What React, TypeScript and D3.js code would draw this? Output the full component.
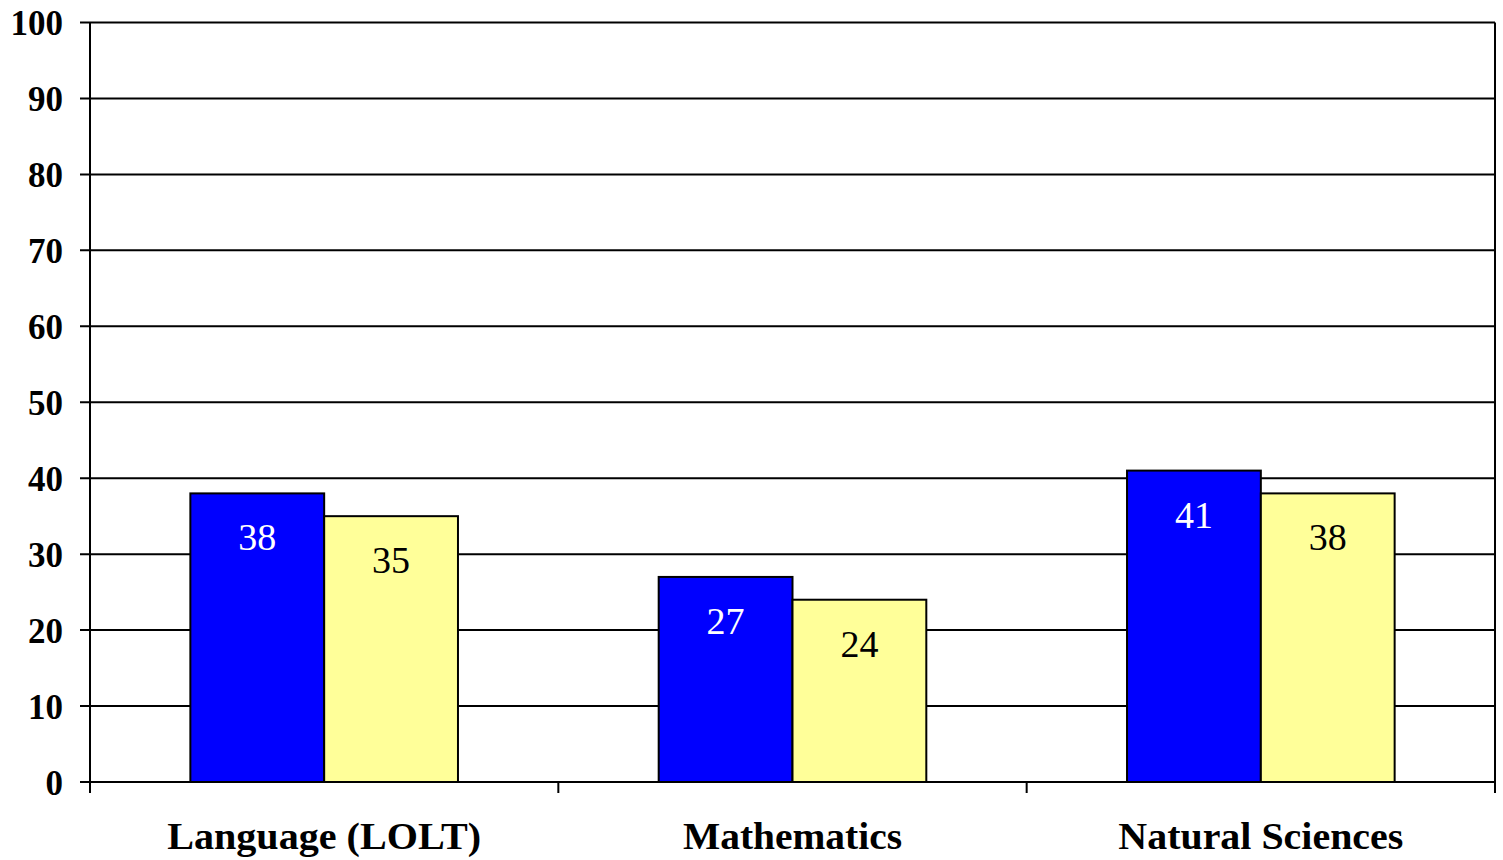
import React from "react";
import * as d3 from "d3";

const categories = ["Language (LOLT)", "Mathematics", "Natural Sciences"];
const seriesNames = ["Series A", "Series B"];
const seriesA = [38, 27, 41];
const seriesB = [35, 24, 38];
const yTicks = [0, 10, 20, 30, 40, 50, 60, 70, 80, 90, 100];
const categoryLabelWidths = [314, 219, 285];

const W = 1503;
const H = 860;
const left = 90;
const right = 1495;
const top = 22.5;
const bottom = 782;

const colors = ["#0000FF", "#FFFF99"];
const labelColors = ["#FFFFFF", "#000000"];
const serif = "'Liberation Serif', 'Times New Roman', serif";

export default function App() {
  const x0 = d3.scaleBand<string>().domain(categories).range([left, right]).paddingInner(0).paddingOuter(0);
  const x1 = d3
    .scaleBand<string>()
    .domain(seriesNames)
    .range([0, x0.bandwidth()])
    .paddingInner(0)
    .paddingOuter(0.75);
  const y = d3.scaleLinear().domain([0, 100]).range([bottom, top]);

  const values = [seriesA, seriesB];
  const catTicks = [...categories.map((c) => x0(c) as number), right];

  return (
    <svg
      width={W}
      height={H}
      viewBox={`0 0 ${W} ${H}`}
      style={{ position: "absolute", left: 0, top: 0, display: "block", background: "#ffffff" }}
    >
      <rect x={0} y={0} width={W} height={H} fill="#ffffff" />

      {/* horizontal gridlines and y ticks */}
      {yTicks.map((t) => (
        <g key={`g${t}`}>
          <line x1={left - 10} x2={right} y1={y(t)} y2={y(t)} stroke="#000" strokeWidth={2} />
          <text
            x={63}
            y={y(t) + 12.5}
            textAnchor="end"
            fontFamily={serif}
            fontWeight="bold"
            fontSize={35}
            fill="#000"
          >
            {t}
          </text>
        </g>
      ))}

      {/* bars */}
      {categories.map((c, ci) =>
        seriesNames.map((s, si) => {
          const v = values[si][ci];
          const bx = (x0(c) as number) + (x1(s) as number);
          const bw = x1.bandwidth();
          return (
            <g key={`${c}-${s}`}>
              <rect
                x={bx}
                y={y(v)}
                width={bw}
                height={y(0) - y(v)}
                fill={colors[si]}
                stroke="#000"
                strokeWidth={2}
              />
              <text
                x={bx + bw / 2}
                y={y(v) + 57}
                textAnchor="middle"
                fontFamily={serif}
                fontSize={38}
                fill={labelColors[si]}
              >
                {v}
              </text>
            </g>
          );
        })
      )}

      {/* plot frame: left axis, right border */}
      <line x1={left} x2={left} y1={top} y2={bottom + 11} stroke="#000" strokeWidth={2} />
      <line x1={right} x2={right} y1={top} y2={bottom + 11} stroke="#000" strokeWidth={2} />
      <line x1={left} x2={right} y1={bottom} y2={bottom} stroke="#000" strokeWidth={2} />

      {/* category ticks */}
      {catTicks.map((tx, i) => (
        <line key={`ct${i}`} x1={tx} x2={tx} y1={bottom} y2={bottom + 11} stroke="#000" strokeWidth={2} />
      ))}

      {/* category labels */}
      {categories.map((c, ci) => (
        <text
          key={`cl${c}`}
          x={(x0(c) as number) + x0.bandwidth() / 2}
          y={849}
          textAnchor="middle"
          fontFamily={serif}
          fontWeight="bold"
          fontSize={38}
          textLength={categoryLabelWidths[ci]}
          lengthAdjust="spacingAndGlyphs"
          fill="#000"
        >
          {c}
        </text>
      ))}
    </svg>
  );
}
